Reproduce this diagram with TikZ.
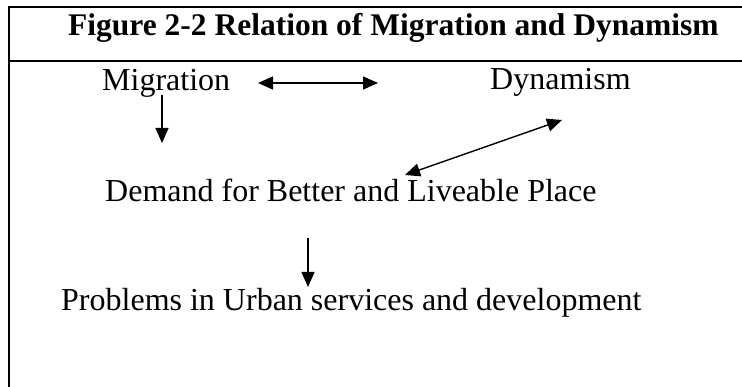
\documentclass[tikz,border=0pt]{standalone}
\usepackage{fontspec}
\setmainfont{Liberation Serif}
\usetikzlibrary{arrows.meta}
\begin{document}
\begin{tikzpicture}[x=1pt, y=-1pt,
    frame/.style={line width=2pt},
    caption text/.style={anchor=base west, inner sep=0pt, font=\fontsize{31.5}{38}\selectfont\bfseries},
    box text/.style={anchor=base west, inner sep=0pt, font=\fontsize{32}{38}\selectfont},
    one way/.style={line width=1.4pt, -{Triangle[length=15pt,width=13pt]}},
    two way/.style={line width=1.4pt, {Triangle[length=15pt,width=13pt]}-{Triangle[length=15pt,width=13pt]}}]
            \useasboundingbox (0, 0) rectangle (742, 387);

            \coordinate (corner) at (9, 7);
            \coordinate (right top) at (750, 7);
            \coordinate (bottom left) at (9, 395);
            \coordinate (rule left) at (9, 61);
            \coordinate (rule right) at (750, 61);

            \draw[frame] (right top) -- (corner) -- (bottom left);
            \draw[frame] (rule left) -- (rule right);

            \node[caption text] (title) at (68, 36) {Figure 2-2 Relation of Migration and Dynamism};

            \node[box text] (migration) at (102, 91) {Migration};
            \node[box text] (dynamism) at (490, 90) {Dynamism};
            \node[box text] (demand) at (105, 202) {Demand for Better and Liveable Place};
            \node[box text] (problems) at (61, 311) {Problems in Urban services and development};

            \coordinate (mig east) at (258, 83);
            \coordinate (dyn west) at (378, 83);
            \coordinate (mig down) at (162, 95);
            \coordinate (dem up) at (162, 143);
            \coordinate (dyn tip) at (562, 120);
            \coordinate (dem tip) at (405, 175);
            \coordinate (dem down) at (308, 238);
            \coordinate (prob up) at (308, 287);

            \draw[two way] (mig east) -- (dyn west);
            \draw[one way] (mig down) -- (dem up);
            \draw[two way] (dem tip) -- (dyn tip);
            \draw[one way] (dem down) -- (prob up);

\end{tikzpicture}
\end{document}
